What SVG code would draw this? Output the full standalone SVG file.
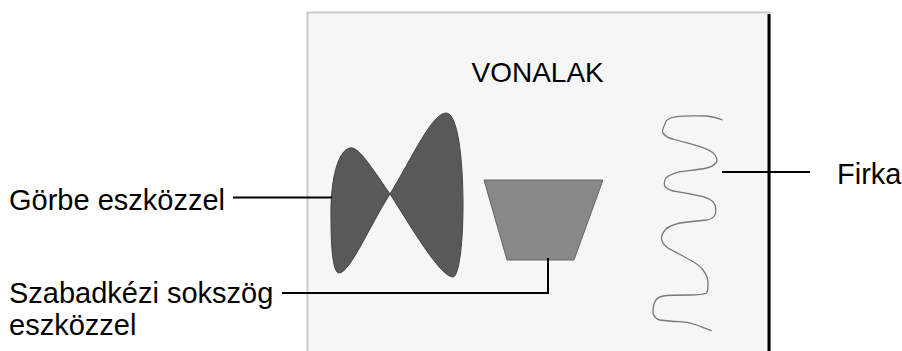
<svg xmlns="http://www.w3.org/2000/svg" width="902" height="351" viewBox="0 0 902 351">
<style>
.lbl{font-family:"Liberation Sans",Arial,sans-serif;font-size:29px;fill:#000}
.ttl{font-family:"Liberation Sans",Arial,sans-serif;font-size:28px;fill:#000}
.conn{stroke:#000;stroke-width:2;fill:none}
</style>
<rect width="902" height="351" fill="#fff"/>
<g id="panel">
<rect x="307.5" y="12.5" width="462" height="345" fill="#f6f6f6" stroke="#cbcbcb" stroke-width="2"/>
<line x1="769" y1="14" x2="769" y2="351" stroke="#000" stroke-width="3"/>
</g>
<g id="title"><text class="ttl" x="471.5" y="81.5">VONALAK</text></g>
<g id="curve">
<path d="M390,194 C370,165 358,146 350,148 C338,150 330,180 331,220 C331,255 334,273 339,273 C350,273 370,225 390,194 Z" fill="#595959" stroke="#444" stroke-width="1"/>
<path d="M390,194 C412,158 432,113 446,113 C458,113 463,160 463,205 C463,250 458,277 453,277 C440,277 410,225 390,194 Z" fill="#595959" stroke="#444" stroke-width="1"/>
</g>
<g id="polygon">
<polygon points="484,180 603,180 574,260 507,260" fill="#888" stroke="#666" stroke-width="1"/>
</g>
<g id="scribble">
<path d="M722.7,120 C716,117 712,116.5 706.7,116 C695,116 684,115.5 676.7,116.7 C669,118 665,121 665,124 C663,128 662,132 663,133 C666,137 669,138.5 673,139 C683,142 692,144 700,146.7 C707,149 713,152 715,155 C717,158 717.5,161 716,163 C713,166 710,167.5 706.7,168 C697,170 688,170.5 680,171.7 C672,174 668,176 666,178 C664,181 664,184 665,186.7 C668,189.5 672,191 676.7,191.7 C686,193 696,195 703,196.7 C710,199 714,202 715,205 C716,209 716,212 715,215 C713,218 710,219.5 706.7,220 C697,221 688,222 680,223 C672,225 667,227 665,230 C662,234 661,237 661.7,240 C663,244 665,246 668,248 C675,252 683,256 690,260 C696,263 700,266 703,270 C706,274 708,279 708,283 C708,288 708,291 706.7,293 C702,295 696,295 690,295 C680,295 670,295 663,296 C658,297 656,299 655,301.7 C653,305 653,309 653,313 C654,317 656,319 660,320 C666,321 673,321.5 680,321.7 C686,322 691,323 696.7,325 C702,327 707,329 711.7,330.7" fill="none" stroke="#777" stroke-width="1.3"/>
</g>
<g id="labels">
<text class="lbl" x="9" y="209.5">Görbe eszközzel</text>
<text class="lbl" x="9" y="302.5">Szabadkézi sokszög</text>
<text class="lbl" x="9" y="335">eszközzel</text>
<text class="lbl" x="837" y="183.5">Firka</text>
</g>
<g id="connectors">
<line class="conn" x1="233" y1="197.5" x2="332" y2="197.5"/>
<polyline class="conn" points="282,293 548,293 548,258"/>
<line class="conn" x1="722" y1="172" x2="810" y2="172"/>
</g>
</svg>
